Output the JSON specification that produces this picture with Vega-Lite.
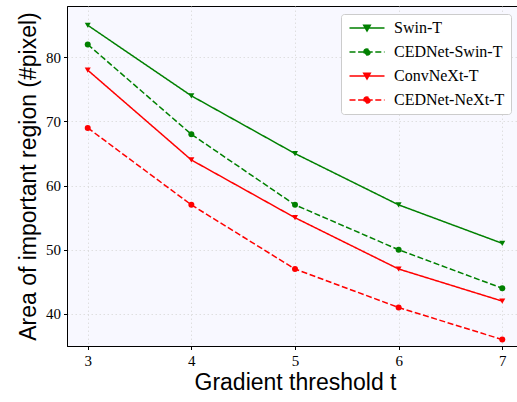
{
  "$schema": "https://vega.github.io/schema/vega-lite/v6.json",
  "width": 456,
  "height": 340,
  "autosize": {"type": "none"},
  "padding": {"left": 67, "top": 6, "right": 0, "bottom": 56},
  "background": "white",
  "config": {
    "view": {"fill": "#f8f8ff", "stroke": "black", "strokeWidth": 1},
    "axis": {
      "labelFont": "Liberation Serif",
      "labelFontSize": 15,
      "labelColor": "black",
      "tickColor": "black",
      "tickSize": 3.5,
      "domainColor": "black",
      "titleFont": "Liberation Sans",
      "titleFontSize": 23,
      "titleFontWeight": "normal",
      "titleColor": "black",
      "gridColor": "#d8d8d8",
      "gridDash": [1.5, 2.5],
      "gridWidth": 0.8
    }
  },
  "data": {
    "values": [
      {"t": 3, "value": 85, "series": "Swin-T"},
      {"t": 4, "value": 74, "series": "Swin-T"},
      {"t": 5, "value": 65, "series": "Swin-T"},
      {"t": 6, "value": 57, "series": "Swin-T"},
      {"t": 7, "value": 51, "series": "Swin-T"},
      {"t": 3, "value": 82, "series": "CEDNet-Swin-T"},
      {"t": 4, "value": 68, "series": "CEDNet-Swin-T"},
      {"t": 5, "value": 57, "series": "CEDNet-Swin-T"},
      {"t": 6, "value": 50, "series": "CEDNet-Swin-T"},
      {"t": 7, "value": 44, "series": "CEDNet-Swin-T"},
      {"t": 3, "value": 78, "series": "ConvNeXt-T"},
      {"t": 4, "value": 64, "series": "ConvNeXt-T"},
      {"t": 5, "value": 55, "series": "ConvNeXt-T"},
      {"t": 6, "value": 47, "series": "ConvNeXt-T"},
      {"t": 7, "value": 42, "series": "ConvNeXt-T"},
      {"t": 3, "value": 69, "series": "CEDNet-NeXt-T"},
      {"t": 4, "value": 57, "series": "CEDNet-NeXt-T"},
      {"t": 5, "value": 47, "series": "CEDNet-NeXt-T"},
      {"t": 6, "value": 41, "series": "CEDNet-NeXt-T"},
      {"t": 7, "value": 36, "series": "CEDNet-NeXt-T"}
    ]
  },
  "encoding": {
    "x": {
      "field": "t",
      "type": "quantitative",
      "scale": {"domain": [2.8, 7.2], "nice": false, "zero": false},
      "axis": {"values": [3, 4, 5, 6, 7], "title": "Gradient threshold t", "labelPadding": 4, "titlePadding": 3, "format": "d", "labelFont": "Liberation Serif", "labelFontSize": 15, "titleFont": "Liberation Sans", "titleFontSize": 23}
    },
    "y": {
      "field": "value",
      "type": "quantitative",
      "scale": {"domain": [35, 88], "nice": false, "zero": false},
      "axis": {"values": [40, 50, 60, 70, 80], "title": "Area of important region (#pixel)", "labelPadding": 3, "titlePadding": 5, "labelFont": "Liberation Serif", "labelFontSize": 15, "titleFont": "Liberation Sans", "titleFontSize": 23}
    }
  },
  "layer": [
    {
      "mark": {"type": "line", "strokeWidth": 1.5},
      "encoding": {
        "color": {
          "field": "series",
          "type": "nominal",
          "scale": {"domain": ["Swin-T", "CEDNet-Swin-T", "ConvNeXt-T", "CEDNet-NeXt-T"], "range": ["#008000", "#008000", "#ff0000", "#ff0000"]},
          "legend": {
            "title": null,
            "orient": "none",
            "legendX": 274,
            "legendY": 8,
            "padding": 6,
            "strokeColor": "#cccccc",
            "fillColor": "#ffffff",
            "cornerRadius": 3,
            "labelFont": "Liberation Serif",
            "labelFontSize": 16,
            "labelColor": "black",
            "symbolSize": 100,
            "symbolStrokeWidth": 1.5,
            "symbolOffset": 12,
            "labelOffset": 19,
            "rowPadding": 8,
            "encode": {
              "symbols": {
                "update": {
                  "shape": {"signal": "(datum.value == 'Swin-T' || datum.value == 'ConvNeXt-T') ? 'M-3.5,0L3.5,0M-0.65,-0.55L0.65,-0.55L0,0.6Z' : 'M-3.5,0L3.5,0M-0.6,0A0.6,0.6,0,1,1,0.6,0A0.6,0.6,0,1,1,-0.6,0Z'"},
                  "fill": {"scale": "color", "field": "value"},
                  "stroke": {"scale": "color", "field": "value"}
                }
              }
            }
          }
        },
        "strokeDash": {
          "field": "series",
          "type": "nominal",
          "scale": {"domain": ["Swin-T", "CEDNet-Swin-T", "ConvNeXt-T", "CEDNet-NeXt-T"], "range": [[1, 0], [6, 2.6], [1, 0], [6, 2.6]]},
          "legend": {
            "title": null,
            "orient": "none",
            "legendX": 274,
            "legendY": 8,
            "padding": 6,
            "strokeColor": "#cccccc",
            "fillColor": "#ffffff",
            "cornerRadius": 3,
            "labelFont": "Liberation Serif",
            "labelFontSize": 16,
            "labelColor": "black",
            "symbolSize": 100,
            "symbolStrokeWidth": 1.5,
            "symbolOffset": 12,
            "labelOffset": 19,
            "rowPadding": 8
          }
        }
      }
    },
    {
      "transform": [{"filter": {"field": "series", "oneOf": ["Swin-T", "ConvNeXt-T"]}}],
      "mark": {"type": "point", "filled": true, "size": 36, "opacity": 1, "shape": "triangle-down"},
      "encoding": {
        "color": {"field": "series", "type": "nominal", "legend": null}
      }
    },
    {
      "transform": [{"filter": {"field": "series", "oneOf": ["CEDNet-Swin-T", "CEDNet-NeXt-T"]}}],
      "mark": {"type": "point", "filled": true, "size": 36, "opacity": 1, "shape": "circle"},
      "encoding": {
        "color": {"field": "series", "type": "nominal", "legend": null}
      }
    }
  ]
}
